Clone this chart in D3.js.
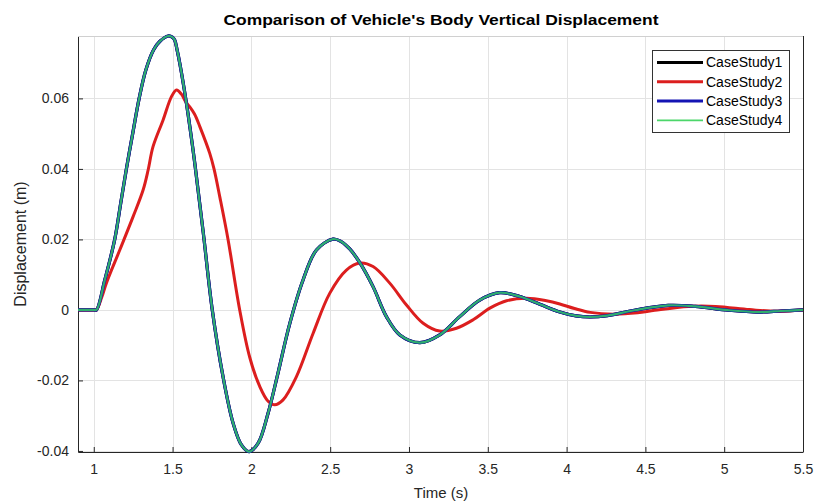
<!DOCTYPE html>
<html>
<head>
<meta charset="utf-8">
<script src="https://cdn.jsdelivr.net/npm/d3@7"></script>
<style>
  html, body { margin: 0; padding: 0; background: #fff; }
  svg { display: block; font-family: "Liberation Sans", Arial, Helvetica, sans-serif; }
</style>
</head>
<body>
<svg id="chart" width="814" height="502"></svg>
<script>
// Time samples (s) and body displacement (m) for the four case studies
const timeA = [0.9, 1.0, 1.017, 1.07, 1.133, 1.17, 1.207, 1.249, 1.288, 1.33, 1.38, 1.42, 1.472, 1.50, 1.514, 1.529, 1.546, 1.588, 1.641, 1.694, 1.752, 1.82, 1.884, 1.937, 1.985, 2.043, 2.106, 2.169, 2.244, 2.328, 2.413, 2.518, 2.57, 2.624, 2.688, 2.772, 2.857, 2.942, 3.069, 3.195, 3.322, 3.449, 3.576, 3.703, 3.83, 3.957, 4.06, 4.15, 4.259, 4.43, 4.645, 4.816, 5.03, 5.223, 5.36, 5.5];
const caseStudy1 = [0, 0, 0, 0.0085, 0.020, 0.030, 0.040, 0.0505, 0.060, 0.068, 0.0738, 0.0762, 0.0777, 0.0773, 0.0765, 0.0737, 0.0699, 0.0586, 0.0416, 0.0222, 0.0, -0.0189, -0.0321, -0.0383, -0.0402, -0.0378, -0.0293, -0.0179, -0.0038, 0.0085, 0.0170, 0.0201, 0.0194, 0.0173, 0.0134, 0.0066, -0.0019, -0.0071, -0.0093, -0.0071, -0.0019, 0.0028, 0.0049, 0.0038, 0.0016, -0.0006, -0.0017, -0.0020, -0.0016, -0.0001, 0.0013, 0.0010, -0.0001, -0.0006, -0.0003, 0.0];
const caseStudy3 = [0, 0, 0, 0.0085, 0.020, 0.030, 0.040, 0.0505, 0.060, 0.068, 0.0738, 0.0762, 0.0777, 0.0773, 0.0765, 0.0737, 0.0699, 0.0586, 0.0416, 0.0222, 0.0, -0.0189, -0.0321, -0.0383, -0.0402, -0.0378, -0.0293, -0.0179, -0.0038, 0.0085, 0.0170, 0.0201, 0.0194, 0.0173, 0.0134, 0.0066, -0.0019, -0.0071, -0.0093, -0.0071, -0.0019, 0.0028, 0.0049, 0.0038, 0.0016, -0.0006, -0.0017, -0.0020, -0.0016, -0.0001, 0.0013, 0.0010, -0.0001, -0.0006, -0.0003, 0.0];
const caseStudy4 = [0, 0, 0, 0.0085, 0.020, 0.030, 0.040, 0.0505, 0.060, 0.068, 0.0738, 0.0762, 0.0777, 0.0773, 0.0765, 0.0737, 0.0699, 0.0586, 0.0416, 0.0222, 0.0, -0.0189, -0.0321, -0.0383, -0.0402, -0.0378, -0.0293, -0.0179, -0.0038, 0.0085, 0.0170, 0.0201, 0.0194, 0.0173, 0.0134, 0.0066, -0.0019, -0.0071, -0.0093, -0.0071, -0.0019, 0.0028, 0.0049, 0.0038, 0.0016, -0.0006, -0.0017, -0.0020, -0.0016, -0.0001, 0.0013, 0.0010, -0.0001, -0.0006, -0.0003, 0.0];

const timeB = [0.9, 1.0, 1.017, 1.05, 1.08, 1.165, 1.249, 1.313, 1.345, 1.376, 1.44, 1.493, 1.525, 1.556, 1.584, 1.609, 1.64, 1.673, 1.736, 1.763, 1.80, 1.852, 1.926, 1.99, 2.053, 2.106, 2.148, 2.201, 2.286, 2.392, 2.497, 2.603, 2.688, 2.772, 2.878, 2.984, 3.09, 3.195, 3.301, 3.407, 3.513, 3.619, 3.746, 3.872, 3.957, 4.05, 4.15, 4.3, 4.45, 4.559, 4.773, 4.945, 5.16, 5.33, 5.5];
const caseStudy2 = [0, 0, 0, 0.0035, 0.0076, 0.0170, 0.0264, 0.0340, 0.0397, 0.0463, 0.0539, 0.0605, 0.0624, 0.0612, 0.0590, 0.0576, 0.0555, 0.0520, 0.0444, 0.040, 0.032, 0.020, 0.0, -0.0135, -0.0217, -0.0259, -0.0269, -0.0255, -0.0189, -0.0066, 0.0047, 0.0113, 0.0133, 0.0123, 0.0076, 0.0014, -0.0038, -0.0060, -0.0052, -0.0028, 0.0005, 0.0026, 0.0033, 0.0026, 0.0017, 0.0004, -0.0007, -0.0012, -0.0008, -0.0001, 0.0010, 0.0010, 0.0001, -0.0004, 0];

const seriesNames = ["CaseStudy1", "CaseStudy2", "CaseStudy3", "CaseStudy4"];
const xTicks = [1, 1.5, 2, 2.5, 3, 3.5, 4, 4.5, 5, 5.5];
const xTickLabels = ["1", "1.5", "2", "2.5", "3", "3.5", "4", "4.5", "5", "5.5"];
const yTicks = [-0.04, -0.02, 0, 0.02, 0.04, 0.06];
const yTickLabels = ["-0.04", "-0.02", "0", "0.02", "0.04", "0.06"];

const svg = d3.select("#chart");
const L = 78, R = 803, T = 36, B = 452;
const x = d3.scaleLinear().domain([0.9, 5.5]).range([L, R]);
const y = d3.scaleLinear().domain([-0.0403, 0.0777]).range([B, T]);

// grid
const grid = svg.append("g").attr("stroke", "#e3e3e3").attr("stroke-width", 1);
grid.selectAll(".gx").data(xTicks).join("line")
  .attr("x1", d => Math.round(x(d)) + 0.5).attr("x2", d => Math.round(x(d)) + 0.5)
  .attr("y1", T).attr("y2", B);
grid.selectAll(".gy").data(yTicks).join("line")
  .attr("y1", d => Math.round(y(d)) + 0.5).attr("y2", d => Math.round(y(d)) + 0.5)
  .attr("x1", L).attr("x2", R);

// axes
const xAxis = d3.axisBottom(x).tickValues(xTicks)
  .tickFormat((d, i) => xTickLabels[i]).tickSizeInner(-5).tickSizeOuter(0).tickPadding(12);
const yAxis = d3.axisLeft(y).tickValues(yTicks)
  .tickFormat((d, i) => yTickLabels[i]).tickSizeInner(-5).tickSizeOuter(0).tickPadding(9);

const gx = svg.append("g").attr("transform", `translate(0,${B})`).call(xAxis);
const gy = svg.append("g").attr("transform", `translate(${L},0)`).call(yAxis);
[gx, gy].forEach(g => {
  g.select(".domain").attr("stroke", "#262626");
  g.selectAll(".tick line").attr("stroke", "#262626");
  g.selectAll(".tick text").attr("fill", "#262626")
    .style("font-size", "14px").style("font-family", "'Liberation Sans', Arial, sans-serif");
});

// box top and right edges
svg.append("line").attr("x1", L).attr("x2", R).attr("y1", T + 0.5).attr("y2", T + 0.5)
  .attr("stroke", "#d0d0d0");
svg.append("line").attr("x1", R + 0.5).attr("x2", R + 0.5).attr("y1", T).attr("y2", B)
  .attr("stroke", "#262626");

// curves
const line = d3.line().x(d => x(d[0])).y(d => y(d[1])).curve(d3.curveCatmullRom.alpha(0.5));
const seriesA = (vals) => timeA.map((t, i) => [t, vals[i]]);
const seriesB = timeB.map((t, i) => [t, caseStudy2[i]]);

const colors = { CaseStudy1: "#000000", CaseStudy2: "#dc1e1e", CaseStudy3: "#1414b4", CaseStudy4: "#4cd66a" };
const widths = { CaseStudy1: 3.2, CaseStudy2: 3, CaseStudy3: 3.2, CaseStudy4: 2.2 };

const plot = svg.append("g").attr("fill", "none").attr("stroke-linejoin", "round");
plot.append("path").datum(seriesA(caseStudy1)).attr("d", line)
  .attr("stroke", colors.CaseStudy1).attr("stroke-width", widths.CaseStudy1);
plot.append("path").datum(seriesB).attr("d", line)
  .attr("stroke", colors.CaseStudy2).attr("stroke-width", widths.CaseStudy2);
plot.append("path").datum(seriesA(caseStudy3)).attr("d", line)
  .attr("stroke", colors.CaseStudy3).attr("stroke-width", widths.CaseStudy3);
plot.append("path").datum(seriesA(caseStudy4)).attr("d", line)
  .attr("stroke", "#2fae6e").attr("stroke-width", widths.CaseStudy4);

// title and axis labels
svg.append("text").attr("x", 441).attr("y", 25).attr("text-anchor", "middle")
  .attr("font-weight", "bold").attr("font-size", 15).attr("fill", "#000")
  .attr("textLength", 435).attr("lengthAdjust", "spacingAndGlyphs")
  .text("Comparison of Vehicle's Body Vertical Displacement");
svg.append("text").attr("x", 441).attr("y", 498).attr("text-anchor", "middle")
  .attr("font-size", 15).attr("fill", "#262626").text("Time (s)");
svg.append("text").attr("transform", "translate(26,244) rotate(-90)").attr("text-anchor", "middle")
  .attr("font-size", 16).attr("fill", "#262626").text("Displacement (m)");

// legend
const lg = svg.append("g");
lg.append("rect").attr("x", 652.5).attr("y", 50.5).attr("width", 137).attr("height", 82)
  .attr("fill", "#fff").attr("stroke", "#333").attr("stroke-width", 1);
seriesNames.forEach((name, i) => {
  const yy = 62.5 + i * 19.3;
  lg.append("line").attr("x1", 657).attr("x2", 703).attr("y1", yy).attr("y2", yy)
    .attr("stroke", colors[name]).attr("stroke-width", name === "CaseStudy4" ? 1.8 : 3);
  lg.append("text").attr("x", 706).attr("y", yy).attr("dy", "0.35em")
    .attr("font-size", 14).attr("fill", "#000").text(name);
});
</script>
</body>
</html>
